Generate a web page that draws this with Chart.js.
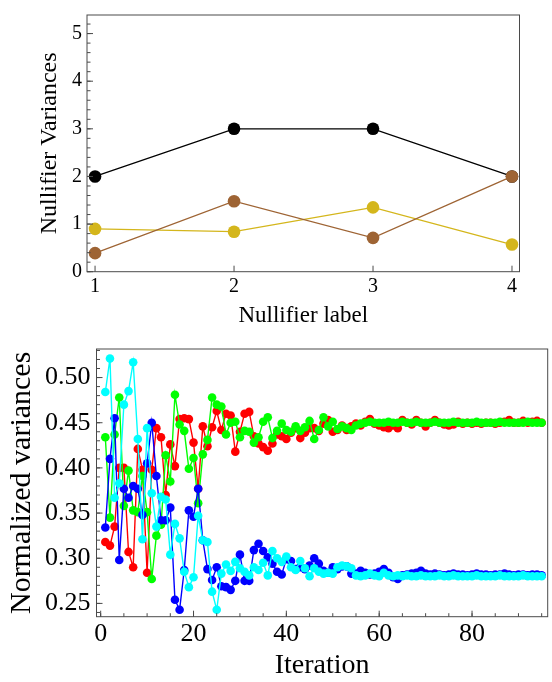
<!DOCTYPE html>
<html><head><meta charset="utf-8">
<script src="https://cdn.jsdelivr.net/npm/chart.js@4.4.1/dist/chart.umd.min.js"></script>
<style>
html,body{margin:0;padding:0;background:#fff;width:552px;height:682px;overflow:hidden}
#c1{position:absolute;left:0;top:0;width:552px;height:330px}
#c2{position:absolute;left:0;top:330px;width:552px;height:352px}
</style></head><body>
<canvas id="c1" width="552" height="330"></canvas>
<canvas id="c2" width="552" height="352"></canvas>
<script>
// ---------- top chart data ----------
const nullifierLabels = [1, 2, 3, 4];
const blackVals = [2, 3, 3, 2];
const goldVals  = [0.90, 0.84, 1.35, 0.57];
const brownVals = [0.39, 1.48, 0.71, 2.00];
const topXTicks = [1, 2, 3, 4];
const topYTicks = [0, 1, 2, 3, 4, 5];

// ---------- bottom chart data ----------
const iterations = [1,2,3,4,5,6,7,8,9,10,11,12,13,14,15,16,17,18,19,20,21,22,23,24,25,26,27,28,29,30,
31,32,33,34,35,36,37,38,39,40,41,42,43,44,45,46,47,48,49,50,51,52,53,54,55,56,57,58,59,60,
61,62,63,64,65,66,67,68,69,70,71,72,73,74,75,76,77,78,79,80,81,82,83,84,85,86,87,88,89,90,
91,92,93,94,95];
const redVals = [0.318,0.314,0.335,0.400,0.400,0.307,0.290,0.421,0.398,0.284,
0.398,0.444,0.434,0.370,0.426,0.402,0.454,0.455,0.454,0.428,
0.377,0.446,0.424,0.445,0.463,0.442,0.460,0.458,0.418,0.440,
0.460,0.462,0.435,0.427,0.423,0.419,0.427,0.437,0.435,0.432,
0.439,0.444,0.433,0.439,0.444,0.444,0.441,0.449,0.453,0.440,
0.442,0.447,0.442,0.446,0.449,0.447,0.451,0.454,0.449,0.447,
0.445,0.444,0.447,0.444,0.453,0.450,0.448,0.453,0.450,0.446,
0.450,0.453,0.450,0.448,0.447,0.448,0.451,0.449,0.450,0.449,
0.450,0.449,0.450,0.450,0.449,0.450,0.451,0.453,0.450,0.450,
0.452,0.450,0.451,0.452,0.450];
const greenVals = [0.434,0.345,0.437,0.478,0.358,0.397,0.353,0.351,0.391,0.351,
0.277,0.325,0.337,0.414,0.385,0.481,0.448,0.441,0.399,0.411,
0.361,0.415,0.431,0.478,0.470,0.468,0.437,0.450,0.451,0.434,
0.441,0.440,0.428,0.434,0.451,0.456,0.433,0.441,0.449,0.442,
0.440,0.446,0.441,0.445,0.452,0.432,0.442,0.456,0.446,0.451,
0.443,0.446,0.444,0.442,0.447,0.449,0.450,0.451,0.450,0.450,
0.450,0.451,0.450,0.450,0.451,0.450,0.450,0.451,0.450,0.450,
0.450,0.451,0.450,0.450,0.450,0.451,0.450,0.450,0.450,0.450,
0.451,0.450,0.450,0.450,0.450,0.451,0.450,0.450,0.450,0.450,
0.450,0.451,0.450,0.450,0.450];
const blueVals = [0.334,0.410,0.455,0.298,0.377,0.367,0.380,0.377,0.348,0.405,
0.450,0.391,0.342,0.342,0.356,0.254,0.243,0.287,0.353,0.346,
0.377,0.320,0.288,0.276,0.290,0.269,0.268,0.265,0.275,0.304,
0.275,0.275,0.309,0.316,0.308,0.301,0.294,0.285,0.282,0.299,
0.297,0.288,0.290,0.288,0.292,0.300,0.294,0.286,0.284,0.290,
0.288,0.291,0.291,0.283,0.283,0.286,0.284,0.282,0.283,0.285,
0.288,0.284,0.279,0.277,0.281,0.282,0.283,0.284,0.286,0.283,
0.282,0.283,0.282,0.281,0.282,0.283,0.282,0.282,0.281,0.282,
0.283,0.282,0.282,0.281,0.282,0.282,0.283,0.282,0.281,0.282,
0.282,0.281,0.282,0.282,0.281];
const cyanVals = [0.484,0.521,0.367,0.383,0.470,0.485,0.517,0.432,0.321,0.444,
0.372,0.335,0.368,0.365,0.304,0.338,0.322,0.285,0.268,0.279,
0.347,0.320,0.318,0.263,0.243,0.283,0.293,0.286,0.296,0.289,
0.285,0.281,0.290,0.287,0.295,0.281,0.308,0.300,0.296,0.302,
0.290,0.287,0.297,0.289,0.280,0.289,0.285,0.283,0.284,0.283,
0.290,0.292,0.291,0.289,0.281,0.280,0.281,0.283,0.281,0.280,
0.284,0.281,0.280,0.281,0.280,0.281,0.280,0.280,0.281,0.280,
0.280,0.280,0.281,0.280,0.280,0.281,0.280,0.280,0.280,0.280,
0.281,0.280,0.280,0.280,0.280,0.281,0.280,0.280,0.280,0.280,
0.281,0.280,0.280,0.280,0.280];
const botXTicks = [0, 20, 40, 60, 80];
const botYTicks = [0.25, 0.30, 0.35, 0.40, 0.45, 0.50];

// ---------- helpers ----------
const SERIF = "'Liberation Serif', 'Times New Roman', serif";
const FRAME = '#4a4a4a';
function pts(xs, ys) { return ys.map((v, i) => ({x: xs[i], y: v})); }

function framePlugin(o) {
  return {
    id: 'frame_' + o.name,
    afterDatasetsDraw(chart) {
      const ctx = chart.ctx, a = chart.chartArea;
      const xs = chart.scales.x, ys = chart.scales.y;
      ctx.save();
      ctx.strokeStyle = FRAME;
      ctx.lineWidth = 1;
      ctx.strokeRect(a.left, a.top, a.right - a.left, a.bottom - a.top);
      ctx.beginPath();
      if (o.xMinor) {
        for (let v = Math.ceil(xs.min / o.xMinor) * o.xMinor; v <= xs.max; v += o.xMinor) {
          const p = xs.getPixelForValue(v);
          ctx.moveTo(p, a.bottom); ctx.lineTo(p, a.bottom - o.minorLen);
        }
      }
      o.xMajor.forEach(v => {
        const p = xs.getPixelForValue(v);
        ctx.moveTo(p, a.bottom); ctx.lineTo(p, a.bottom - o.majorLen);
      });
      if (o.yMinor) {
        const n0 = Math.ceil(ys.min / o.yMinor - 1e-6), n1 = Math.floor(ys.max / o.yMinor + 1e-6);
        for (let n = n0; n <= n1; n++) {
          const p = ys.getPixelForValue(n * o.yMinor);
          ctx.moveTo(a.left, p); ctx.lineTo(a.left + o.minorLen, p);
        }
      }
      o.yMajor.forEach(v => {
        const p = ys.getPixelForValue(v);
        ctx.moveTo(a.left, p); ctx.lineTo(a.left + o.majorLen, p);
      });
      ctx.stroke();
      ctx.restore();
    }
  };
}

// ---------- top chart ----------
new Chart(document.getElementById('c1'), {
  type: 'line',
  data: {
    datasets: [
      {data: pts(nullifierLabels, brownVals), borderColor: 'rgb(158,100,52)', backgroundColor: 'rgb(158,100,52)', order: 1},
      {data: pts(nullifierLabels, goldVals),  borderColor: 'rgb(212,182,28)', backgroundColor: 'rgb(212,182,28)', order: 2},
      {data: pts(nullifierLabels, blackVals), borderColor: '#000', backgroundColor: '#000', order: 3}
    ].map(d => Object.assign(d, {borderWidth: 1.3, pointRadius: 6.3, pointBorderWidth: 0, tension: 0, fill: false}))
  },
  options: {
    responsive: false, animation: false,
    layout: {padding: {left: 0, top: 5, right: 32.5, bottom: 0}},
    plugins: {legend: {display: false}, tooltip: {enabled: false}},
    scales: {
      x: {
        type: 'linear', min: 0.942, max: 4.054,
        afterBuildTicks: s => { s.ticks = topXTicks.map(v => ({value: v})); },
        afterFit: s => { s.height = 58.3; },
        grid: {display: false, drawTicks: false}, border: {display: false},
        ticks: {padding: 5, color: '#000', font: {family: SERIF, size: 20, lineHeight: 1}, callback: v => String(v), maxRotation: 0},
        title: {display: true, text: 'Nullifier label', color: '#000', font: {family: SERIF, size: 23, lineHeight: 1}, padding: {top: 0, bottom: 3}}
      },
      y: {
        type: 'linear', min: 0, max: 5.39,
        afterBuildTicks: s => { s.ticks = topYTicks.map(v => ({value: v})); },
        afterFit: s => { s.width = 87; },
        grid: {display: false, drawTicks: false}, border: {display: false},
        ticks: {padding: 5, color: '#000', font: {family: SERIF, size: 20, lineHeight: 1}, callback: v => String(v)},
        title: {display: true, text: 'Nullifier Variances', color: '#000', font: {family: SERIF, size: 24, lineHeight: 1}, padding: {top: 38, bottom: 0}}
      }
    }
  },
  plugins: [framePlugin({name: 'top', xMajor: topXTicks, yMajor: topYTicks, yMinor: 0.2, majorLen: 6, minorLen: 3.5})]
});

// ---------- bottom chart ----------
new Chart(document.getElementById('c2'), {
  type: 'line',
  data: {
    datasets: [
      {data: pts(iterations, cyanVals),  borderColor: 'rgb(0,255,255)', backgroundColor: 'rgb(0,255,255)'},
      {data: pts(iterations, blueVals),  borderColor: 'rgb(0,0,255)',   backgroundColor: 'rgb(0,0,255)'},
      {data: pts(iterations, greenVals), borderColor: 'rgb(0,255,0)',   backgroundColor: 'rgb(0,255,0)'},
      {data: pts(iterations, redVals),   borderColor: 'rgb(255,0,0)',   backgroundColor: 'rgb(255,0,0)'}
    ].map(d => Object.assign(d, {borderWidth: 1.4, pointRadius: 4.3, pointBorderWidth: 0, tension: 0, fill: false}))
  },
  options: {
    responsive: false, animation: false,
    layout: {padding: {left: 0, top: 5, right: 2, bottom: 0}},
    plugins: {legend: {display: false}, tooltip: {enabled: false}},
    scales: {
      x: {
        type: 'linear', min: -0.9, max: 96.3,
        afterBuildTicks: s => { s.ticks = botXTicks.map(v => ({value: v})); },
        afterFit: s => { s.height = 65.3; },
        grid: {display: false, drawTicks: false}, border: {display: false},
        ticks: {padding: 4, color: '#000', font: {family: SERIF, size: 26, lineHeight: 1}, callback: v => String(v), maxRotation: 0},
        title: {display: true, text: 'Iteration', color: '#000', font: {family: SERIF, size: 28, lineHeight: 1}, padding: {top: 0, bottom: 2}}
      },
      y: {
        type: 'linear', min: 0.2353, max: 0.5316,
        afterBuildTicks: s => { s.ticks = botYTicks.map(v => ({value: v})); },
        afterFit: s => { s.width = 96.5; },
        grid: {display: false, drawTicks: false}, border: {display: false},
        ticks: {padding: 6, color: '#000', font: {family: SERIF, size: 26, lineHeight: 1}, callback: v => Number(v).toFixed(2)},
        title: {display: true, text: 'Normalized variances', color: '#000', font: {family: SERIF, size: 30, lineHeight: 1}, padding: {top: 7, bottom: 0}}
      }
    }
  },
  plugins: [framePlugin({name: 'bot', xMajor: botXTicks, xMinor: 5, yMajor: botYTicks, yMinor: 0.01, majorLen: 6, minorLen: 3.5})]
});
</script>
</body></html>
